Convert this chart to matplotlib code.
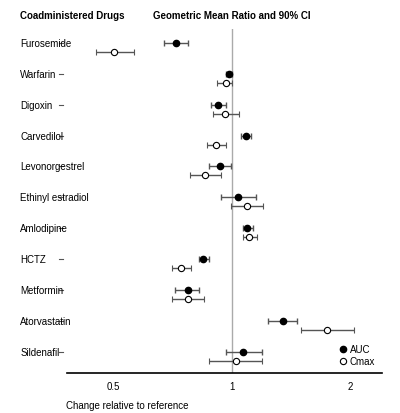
import matplotlib
matplotlib.use("Agg")
import matplotlib.pyplot as plt
from matplotlib.lines import Line2D
import numpy as np

drugs = ["Furosemide","Warfarin","Digoxin","Carvedilol","Levonorgestrel","Ethinyl estradiol",
         "Amlodipine","HCTZ","Metformin","Atorvastatin","Sildenafil"]
auc = [0.72,0.984,0.921,1.083,0.932,1.036,1.094,0.844,0.772,1.35,1.067]
auc_lo = [0.673,0.965,0.884,1.054,0.874,0.936,1.065,0.824,0.714,1.234,0.965]
auc_hi = [0.774,1.0,0.964,1.116,0.994,1.148,1.133,0.873,0.823,1.46,1.194]
cmax = [0.50,0.964,0.962,0.912,0.854,1.094,1.105,0.743,0.772,1.75,1.024]
cmax_lo = [0.45,0.915,0.895,0.864,0.782,0.994,1.067,0.703,0.703,1.495,0.873]
cmax_hi = [0.564,1.0,1.04,0.965,0.936,1.196,1.157,0.784,0.847,2.04,1.194]
xticks = [0.5,1,2]

plt.rcParams['font.family'] = ['Liberation Sans','DejaVu Sans']
fig = plt.figure(figsize=(4,4.14), dpi=100)
ax = fig.add_axes([0.1675,0.0966,0.7875,0.8309])
ax.set_xscale('log', base=2)
ax.set_xlim(0.38,2.41)
ax.set_ylim(10.69,-0.45)
y = np.arange(len(drugs))
ax.axvline(1, color='#aaaaaa', lw=1, zorder=0)
ec = '#555555'
ax.errorbar(auc, y, xerr=[np.array(auc)-auc_lo, np.array(auc_hi)-auc], fmt='o', ms=4.5,
            mfc='black', mec='black', ecolor=ec, elinewidth=1, capsize=2.5)
ax.errorbar(cmax, y+0.29, xerr=[np.array(cmax)-cmax_lo, np.array(cmax_hi)-cmax], fmt='o', ms=4.5,
            mfc='white', mec='black', mew=0.8, ecolor=ec, elinewidth=1, capsize=2.5)
for s in ['left','right','top']:
    ax.spines[s].set_visible(False)
ax.spines['bottom'].set_linewidth(1.2)
ax.set_xticks(xticks)
ax.set_xticklabels([str(v) for v in xticks], fontsize=7)
ax.minorticks_off()
ax.tick_params(axis='x', length=0, pad=6)
ax.set_yticks([])
for i, d in enumerate(drugs):
    ax.text(-0.149, i, d, transform=ax.get_yaxis_transform(), fontsize=7, va='center', ha='left')
    ax.plot([-0.025,-0.012],[i,i], transform=ax.get_yaxis_transform(), clip_on=False, color='#555555', lw=0.8)
fig.text(0.05, 0.962, "Coadministered Drugs", fontsize=7, fontweight='bold', va='center')
fig.text(0.58, 0.962, "Geometric Mean Ratio and 90% CI", fontsize=7, fontweight='bold', va='center', ha='center')
fig.text(0.165, 0.02, "Change relative to reference", fontsize=7, va='center')
handles = [Line2D([], [], ls='none', marker='o', ms=4.5, mfc='black', mec='black'),
           Line2D([], [], ls='none', marker='o', ms=4.5, mfc='white', mec='black', mew=0.8)]
ax.legend(handles, ['AUC', 'Cmax'], loc='lower right', bbox_to_anchor=(1.0, 0.0), frameon=False, fontsize=7,
          handlelength=0.8, handletextpad=0.3, labelspacing=0.2, borderpad=0.2)
fig.savefig("out.png", dpi=100)
